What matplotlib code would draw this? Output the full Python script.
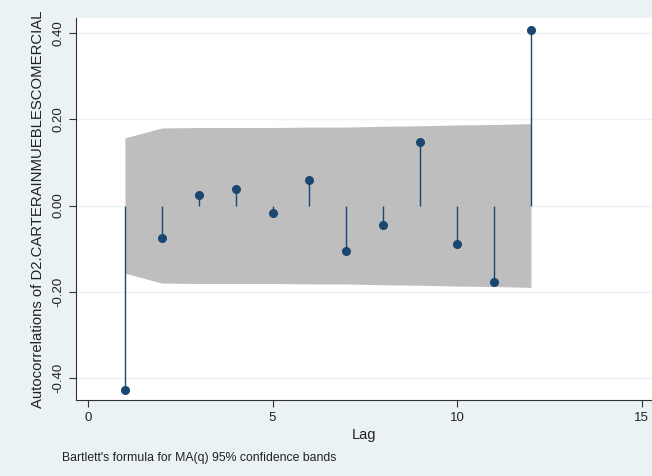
import matplotlib
matplotlib.use("Agg")
import matplotlib.pyplot as plt
import numpy as np

lags = [1, 2, 3, 4, 5, 6, 7, 8, 9, 10, 11, 12]
acf = [-0.428, -0.075, 0.024, 0.038, -0.017, 0.059, -0.105, -0.046, 0.147, -0.089, -0.178, 0.407]
band = [0.157, 0.180, 0.181, 0.181, 0.181, 0.182, 0.182, 0.184, 0.185, 0.187, 0.188, 0.190]
yticks = [-0.4, -0.2, 0.0, 0.2, 0.4]
ytick_labels = ["-0.40", "-0.20", "0.00", "0.20", "0.40"]
xticks = [0, 5, 10, 15]
ylabel = "Autocorrelations of D2.CARTERAINMUEBLESCOMERCIAL"
xlabel = "Lag"
note = "Bartlett's formula for MA(q) 95% confidence bands"

plt.rcParams['font.family'] = ['Liberation Sans', 'DejaVu Sans']

bg = '#EAF2F3'
navy = '#1A476F'

fig = plt.figure(figsize=(6.52, 4.76), dpi=100, facecolor=bg)
ax = fig.add_axes([0.1166, 0.160, 0.8834, 0.802])
ax.set_facecolor('white')

ax.set_xlim(-0.325, 15.28)
ax.set_ylim(-0.451, 0.435)

for yv in yticks:
    ax.axhline(yv, color=bg, lw=1.0, zorder=0)

b = np.array(band)
ax.fill_between(lags, -b, b, color='#BEBEBE', lw=0, zorder=1)

ax.vlines(lags, 0, acf, color=navy, lw=1.0, zorder=2)
ax.plot(lags, acf, 'o', color=navy, markersize=5.5, zorder=3)

ax.set_yticks(yticks)
ax.set_yticklabels(ytick_labels, rotation=90, va='center', fontsize=9.5)
ax.set_xticks(xticks)
ax.set_xticklabels([str(x) for x in xticks], fontsize=9.5)

for s in ['top', 'right']:
    ax.spines[s].set_visible(False)
for s in ['left', 'bottom']:
    ax.spines[s].set_color('#333333')
    ax.spines[s].set_linewidth(0.8)

ax.tick_params(direction='out', length=5, width=0.8, color='#333333', labelcolor='#222222')

ax.set_ylabel(ylabel, fontsize=10.7, color='#222222', labelpad=5)
ax.set_xlabel(xlabel, fontsize=10.5, color='#222222', labelpad=3)

fig.text(62/652, 1 - 458/476, note, fontsize=8.8, color='#222222', va='center', ha='left')

fig.savefig('out.png', dpi=100, facecolor=bg)
